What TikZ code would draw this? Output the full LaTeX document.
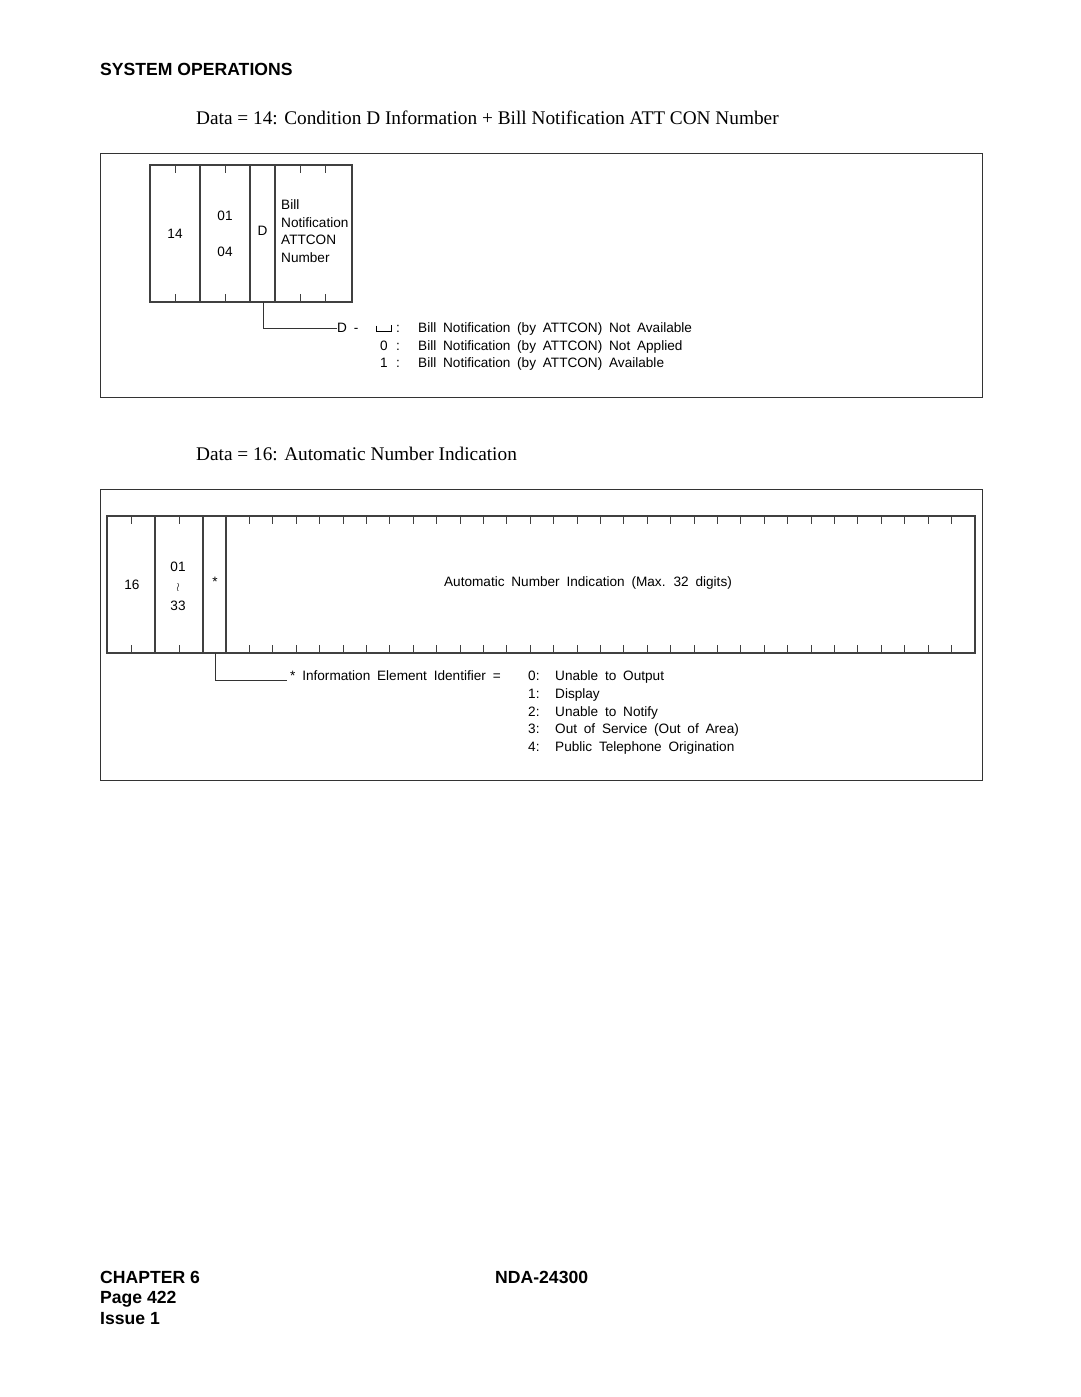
\documentclass[tikz,border=0pt]{standalone}
\usepackage{fontspec}
\setmainfont{Liberation Serif}
\setsansfont{Liberation Sans}
\newfontfamily\lab[WordSpace=1.8]{Liberation Sans}
\newfontfamily\boldsans{Liberation Sans Bold}
\begin{document}
\begin{tikzpicture}[x=1pt,y=-1pt,
  frame/.style={draw=black!80,line width=1pt},
  fieldline/.style={draw=black!75,line width=1.2pt},
  tick/.style={draw=black!75,line width=1pt},
  conn/.style={draw=black!80,line width=1pt},
  lbl/.style={font=\lab\fontsize{13.6}{15}\selectfont,inner sep=0pt,text height=9.7pt,text depth=0pt,anchor=west},
  clbl/.style={lbl,anchor=center},
  head/.style={font=\fontsize{19.3}{22}\selectfont,inner sep=0pt,text height=12.8pt,text depth=0pt,anchor=west},
  bhead/.style={font=\boldsans\fontsize{17.6}{20}\selectfont,inner sep=0pt,text height=12.6pt,text depth=0pt,anchor=west}]
\useasboundingbox[fill=white] (0,0) rectangle (1080,1397);

% page header
\node[bhead] (sysop) at (100,69) {SYSTEM OPERATIONS};

% ---------- Data = 14 ----------
\node[head] (h14) at (196,118) {Data = 14: Condition D Information + Bill Notification ATT CON Number};
\draw[frame] (100,153) rectangle (982,397);

\draw[fieldline] (150,165) rectangle (352,302);
\foreach \x in {200,250,275} \draw[fieldline] (\x,165) -- (\x,302);
\foreach \x in {175,225,300,325} {
  \draw[tick] (\x,165) -- (\x,173);
  \draw[tick] (\x,302) -- (\x,294);
}
\node[clbl] (f14) at (175,234) {14};
\node[clbl] (f01) at (225,216) {01};
\node[clbl] (f04) at (225,252) {04};
\node[clbl] (fD) at (262.5,231) {D};
\node[lbl] (fb1) at (281,205) {Bill};
\node[lbl] (fb2) at (281,223) {Notification};
\node[lbl] (fb3) at (281,240) {ATTCON};
\node[lbl] (fb4) at (281,258) {Number};

\coordinate (dtop) at (263,302);
\node[lbl] (dlab) at (337,328) {D -};
\draw[conn] (dtop) |- (dlab.west);
\draw[line width=0.8pt] (376,325.5) -- (376,331.5) -- (391,331.5) -- (391,324.5);
\node[lbl] (c1) at (396,328) {:};
\node[lbl] (v0) at (380,346) {0};
\node[lbl] (c2) at (396,346) {:};
\node[lbl] (v1) at (380,363) {1};
\node[lbl] (c3) at (396,363) {:};
\node[lbl] (t1) at (418,328) {Bill Notification (by ATTCON) Not Available};
\node[lbl] (t2) at (418,346) {Bill Notification (by ATTCON) Not Applied};
\node[lbl] (t3) at (418,363) {Bill Notification (by ATTCON) Available};

% ---------- Data = 16 ----------
\node[head] (h16) at (196,454) {Data = 16: Automatic Number Indication};
\draw[frame] (100,489) rectangle (982,780);

\draw[fieldline] (107,516) rectangle (975,653);
\foreach \x in {155,203,226} \draw[fieldline] (\x,516) -- (\x,653);
\foreach \x in {131,179} {
  \draw[tick] (\x,516) -- (\x,524);
  \draw[tick] (\x,653) -- (\x,645);
}
\foreach \k in {1,...,31} {
  \pgfmathsetmacro{\xx}{226+\k*23.406}
  \draw[tick] (\xx,516) -- (\xx,524);
  \draw[tick] (\xx,653) -- (\xx,645);
}
\node[clbl] (g16) at (132,585) {16};
\node[clbl] (g01) at (178,567) {01};
\node[inner sep=0pt,font=\fontsize{13}{14}\selectfont] (gw) at (178,587) {$\wr$};
\node[clbl] (g33) at (178,606) {33};
\node[clbl] (gst) at (215,582) {*};
\node[clbl] (gani) at (588,582) {Automatic Number Indication (Max. 32 digits)};

\coordinate (stop) at (215,653);
\node[lbl] (iei) at (290,676) {* Information Element Identifier =};
\draw[conn] (stop) |- (287,680.5);
\foreach \n/\t [count=\i from 0] in {0/Unable to Output,1/Display,2/Unable to Notify,3/Out of Service (Out of Area),4/Public Telephone Origination} {
  \node[lbl] (o\i) at (528,676+\i*17.6) {\n:};
  \node[lbl] (ot\i) at (555,676+\i*17.6) {\t};
}

% ---------- footer ----------
\node[bhead] (ch) at (100,1277) {CHAPTER 6};
\node[bhead] (pg) at (100,1297) {Page 422};
\node[bhead] (is) at (100,1318) {Issue 1};
\node[bhead] (nda) at (495,1277) {NDA-24300};
\end{tikzpicture}
\end{document}
